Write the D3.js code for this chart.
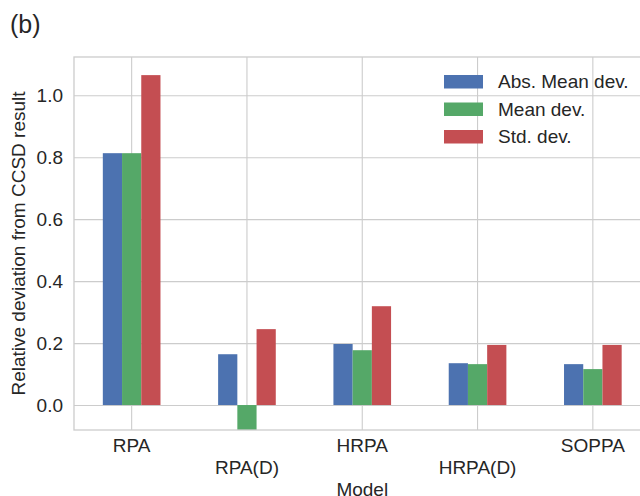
<!DOCTYPE html>
<html>
<head>
<meta charset="utf-8">
<script src="https://cdn.jsdelivr.net/npm/d3@7"></script>
<style>
  html, body { margin: 0; padding: 0; background: #fff; }
  svg { display: block; }
  text { font-family: "Liberation Sans", Arial, sans-serif; fill: #262626; }
</style>
</head>
<body>
<svg id="chart" width="640" height="496"></svg>
<script>
const categories = ["RPA", "RPA(D)", "HRPA", "HRPA(D)", "SOPPA"];
const seriesNames = ["Abs. Mean dev.", "Mean dev.", "Std. dev."];
const absMeanDev = [0.813, 0.164, 0.197, 0.135, 0.132];
const meanDev = [0.813, -0.09, 0.177, 0.132, 0.116];
const stdDev = [1.065, 0.245, 0.319, 0.194, 0.194];
const yTicks = [0.0, 0.2, 0.4, 0.6, 0.8, 1.0];
const colors = ["#4C72B0", "#55A868", "#C44E52"];
const title = "(b)";
const xLabel = "Model";
const yLabel = "Relative deviation from CCSD result";

const seriesValues = [absMeanDev, meanDev, stdDev];

const svg = d3.select("#chart");
const pLeft = 74, pTop = 57, pRight = 650.5, pBottom = 430;
const W = pRight - pLeft, H = pBottom - pTop;

const x = d3.scaleBand().domain(categories).range([pLeft, pRight]).paddingInner(0.5).paddingOuter(0.25);
const xs = d3.scaleBand().domain(d3.range(seriesNames.length)).range([0, x.bandwidth()]);
const y = d3.scaleLinear().domain([-0.0806, 1.1235]).range([pBottom, pTop]);

const gridColor = "#cccccc";

// Y grid + axis
const yAxis = svg.append("g").attr("transform", `translate(${pLeft},0)`)
  .call(d3.axisLeft(y).tickValues(yTicks).tickFormat(d3.format(".1f")).tickSize(-W).tickPadding(11));
yAxis.select(".domain").remove();
yAxis.selectAll("line").attr("stroke", gridColor).attr("stroke-width", 1.1);
yAxis.selectAll("text").style("font-size", "19px").attr("fill", "#262626");

// X grid + axis
const xAxis = svg.append("g").attr("transform", `translate(0,${pBottom})`)
  .call(d3.axisBottom(x).tickSize(-H).tickPadding(9));
xAxis.select(".domain").remove();
xAxis.selectAll("line").attr("stroke", gridColor).attr("stroke-width", 1.1);
xAxis.selectAll("text").style("font-size", "19px").attr("fill", "#262626")
  .attr("transform", (d, i) => i % 2 === 1 ? "translate(0,22)" : null);

// Bars
svg.append("clipPath").attr("id", "plotclip")
  .append("rect").attr("x", pLeft).attr("y", pTop).attr("width", W).attr("height", H);

const barsG = svg.append("g").attr("clip-path", "url(#plotclip)");
seriesValues.forEach((vals, si) => {
  barsG.selectAll(null).data(vals).enter().append("rect")
    .attr("x", (d, i) => x(categories[i]) + xs(si))
    .attr("width", xs.bandwidth())
    .attr("y", d => y(Math.max(0, d)))
    .attr("height", d => Math.abs(y(d) - y(0)))
    .attr("fill", colors[si]);
});

// Spines
svg.append("rect").attr("x", pLeft).attr("y", pTop).attr("width", W).attr("height", H)
  .attr("fill", "none").attr("stroke", gridColor).attr("stroke-width", 1.3);

// Legend
const legend = svg.append("g");
seriesNames.forEach((name, i) => {
  const ly = 75 + i * 27.5;
  legend.append("rect").attr("x", 444).attr("y", ly).attr("width", 39).attr("height", 13.5).attr("fill", colors[i]);
  legend.append("text").attr("x", 498).attr("y", ly + 13.4).style("font-size", "19px").text(name);
});

// Labels
svg.append("text").attr("x", 10).attr("y", 33).style("font-size", "25px").text(title);
svg.append("text").attr("x", (pLeft + pRight) / 2).attr("y", 495.5).attr("text-anchor", "middle")
  .style("font-size", "19px").text(xLabel);
svg.append("text").attr("transform", `translate(25,${(pTop + pBottom) / 2}) rotate(-90)`)
  .attr("text-anchor", "middle").style("font-size", "19px").text(yLabel);
</script>
</body>
</html>
